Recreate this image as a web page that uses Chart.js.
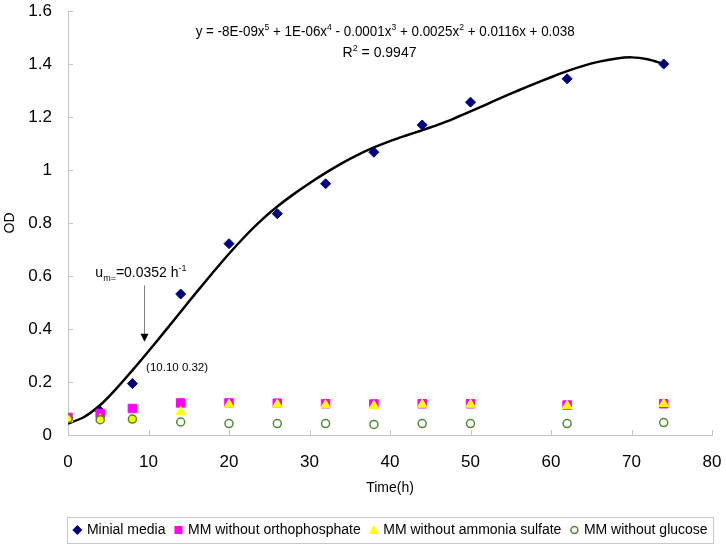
<!DOCTYPE html>
<html>
<head>
<meta charset="utf-8">
<script src="https://cdn.jsdelivr.net/npm/chart.js@4.4.1/dist/chart.umd.min.js"></script>
<style>
html, body { margin: 0; padding: 0; background: #fff; }
</style>
</head>
<body>
<canvas id="odChart" width="726" height="547"></canvas>
<script>
const sampleTimes = [0, 4, 8, 14, 20, 26, 32, 38, 44, 50, 62, 74];
const minialMedia = [0.065, 0.09, 0.194, 0.532, 0.722, 0.835, 0.948, 1.067, 1.170, 1.256, 1.344, 1.400];
const noPhosphate = [0.066, 0.081, 0.100, 0.121, 0.121, 0.120, 0.118, 0.117, 0.118, 0.118, 0.113, 0.118];
const noAmmonia = [0.060, 0.060, 0.060, 0.087, 0.115, 0.115, 0.113, 0.110, 0.115, 0.115, 0.110, 0.118];
const noGlucose = [0.062, 0.058, 0.060, 0.049, 0.043, 0.043, 0.043, 0.040, 0.043, 0.043, 0.043, 0.047];

const fitTimes = [0, 2, 4, 6, 8, 10, 12, 14, 16, 18, 20, 22, 24, 26, 28, 30, 32, 34, 36,
    38, 40, 42, 44, 46, 48, 50, 52, 54, 56, 58, 60, 62, 64, 66, 68, 70, 72, 74];
const fitValues = [0.043, 0.068, 0.113, 0.175, 0.244, 0.316, 0.390, 0.465, 0.540, 0.613,
    0.684, 0.750, 0.810, 0.862, 0.908, 0.950, 0.989, 1.025, 1.057, 1.085, 1.109, 1.130,
    1.150, 1.171, 1.195, 1.221, 1.248, 1.275, 1.301, 1.326, 1.350, 1.373, 1.393, 1.409,
    1.420, 1.425, 1.418, 1.400];

const xTicks = [0, 10, 20, 30, 40, 50, 60, 70, 80];
const yTicks = [0, 0.2, 0.4, 0.6, 0.8, 1, 1.2, 1.4, 1.6];
const seriesNames = ['Minial media', 'MM without orthophosphate', 'MM without ammonia sulfate', 'MM without glucose'];

const FONT = '"Liberation Sans", Arial, sans-serif';
Chart.defaults.font.family = FONT;
Chart.defaults.color = '#000';

function toPoints(xs, ys) {
    return xs.map((x, i) => ({ x: x, y: ys[i] }));
}

// text with sub/superscripts: parts = [text, size, dy], sx squeezes horizontally
function drawRich(ctx, parts, x, y, align, sx) {
    sx = sx || 1;
    let total = 0;
    parts.forEach(p => {
        ctx.font = p[1] + 'px ' + FONT;
        total += ctx.measureText(p[0]).width;
    });
    ctx.save();
    ctx.translate(align === 'center' ? x - total * sx / 2 : x, y);
    ctx.scale(sx, 1);
    let cx = 0;
    parts.forEach(p => {
        ctx.font = p[1] + 'px ' + FONT;
        ctx.fillText(p[0], cx, p[2] || 0);
        cx += ctx.measureText(p[0]).width;
    });
    ctx.restore();
}

function drawMarker(ctx, ds, x, y) {
    ctx.save();
    ctx.fillStyle = ds.backgroundColor;
    ctx.strokeStyle = ds.borderColor;
    ctx.lineWidth = ds.borderWidth || 1;
    ctx.beginPath();
    if (ds.pointStyle === 'rectRot') {
        ctx.moveTo(x, y - 5); ctx.lineTo(x + 5, y); ctx.lineTo(x, y + 5); ctx.lineTo(x - 5, y);
        ctx.closePath(); ctx.fill();
    } else if (ds.pointStyle === 'rect') {
        ctx.rect(x - 4, y - 4, 8, 8); ctx.fill();
    } else if (ds.pointStyle === 'triangle') {
        ctx.moveTo(x, y - 5); ctx.lineTo(x + 5, y + 4); ctx.lineTo(x - 5, y + 4);
        ctx.closePath(); ctx.fill();
    } else {
        ctx.arc(x, y, 3.5, 0, Math.PI * 2); ctx.stroke();
    }
    ctx.restore();
}

const insideTicks = {
    id: 'insideTicks',
    afterDraw(chart) {
        const { ctx, chartArea } = chart;
        const x = chart.scales.x, y = chart.scales.y;
        ctx.save();
        ctx.strokeStyle = '#c4c4c4';
        ctx.lineWidth = 1;
        ctx.beginPath();
        xTicks.forEach(v => {
            const px = Math.round(x.getPixelForValue(v)) + 0.5;
            ctx.moveTo(px, chartArea.bottom);
            ctx.lineTo(px, chartArea.bottom - 5);
        });
        yTicks.forEach(v => {
            const py = Math.round(y.getPixelForValue(v)) + 0.5;
            ctx.moveTo(chartArea.left, py);
            ctx.lineTo(chartArea.left + 5, py);
        });
        ctx.stroke();
        ctx.restore();
    }
};

const notes = {
    id: 'notes',
    afterDraw(chart) {
        const ctx = chart.ctx;
        const x = chart.scales.x, y = chart.scales.y;
        ctx.save();
        ctx.fillStyle = '#000';
        ctx.textBaseline = 'alphabetic';
        drawRich(ctx, [['y = -8E-09x', 14], ['5', 9, -6], [' + 1E-06x', 14], ['4', 9, -6],
            [' - 0.0001x', 14], ['3', 9, -6], [' + 0.0025x', 14], ['2', 9, -6],
            [' + 0.0116x + 0.038', 14]], x.getPixelForValue(39.4), y.getPixelForValue(1.505), 'center', 0.957);
        drawRich(ctx, [['R', 14], ['2', 9, -6], [' = 0.9947', 14]],
            x.getPixelForValue(38.7), y.getPixelForValue(1.425), 'center');
        drawRich(ctx, [['u', 14], ['m=', 9, 4], ['=0.0352 h', 14], ['-1', 9, -6]],
            x.getPixelForValue(3.4), y.getPixelForValue(0.595), 'left');
        drawRich(ctx, [['(10.10 0.32)', 11.5]], x.getPixelForValue(9.7), y.getPixelForValue(0.240), 'left');

        // arrow pointing at the max growth rate
        const ax = Math.round(x.getPixelForValue(9.45)) + 0.5;
        const top = y.getPixelForValue(0.565);
        const tip = y.getPixelForValue(0.352);
        ctx.strokeStyle = '#808080';
        ctx.lineWidth = 1;
        ctx.beginPath();
        ctx.moveTo(ax, top);
        ctx.lineTo(ax, tip - 7);
        ctx.stroke();
        ctx.fillStyle = '#000';
        ctx.beginPath();
        ctx.moveTo(ax - 4, tip - 8);
        ctx.lineTo(ax + 4, tip - 8);
        ctx.lineTo(ax, tip);
        ctx.closePath();
        ctx.fill();
        ctx.restore();
    }
};

const boxLegend = {
    id: 'boxLegend',
    afterDraw(chart) {
        const ctx = chart.ctx;
        const box = { left: 67, top: 517, right: 713, bottom: 543 };
        ctx.save();
        ctx.strokeStyle = '#c8c8c8';
        ctx.lineWidth = 1;
        ctx.strokeRect(box.left + 0.5, box.top + 0.5, box.right - box.left, box.bottom - box.top);
        ctx.font = '14px ' + FONT;
        ctx.fillStyle = '#000';
        ctx.textBaseline = 'middle';
        const items = chart.data.datasets.filter(d => d.label);
        const widths = items.map(d => 14.5 + ctx.measureText(d.label).width);
        const gap = 8;
        const total = widths.reduce((a, b) => a + b, 0) + gap * (items.length - 1);
        let cx = (box.left + box.right) / 2 - total / 2;
        const cy = (box.top + box.bottom) / 2;
        items.forEach((d, i) => {
            drawMarker(ctx, d, cx + 5, cy);
            ctx.fillText(d.label, cx + 14.5, cy);
            cx += widths[i] + gap;
        });
        ctx.restore();
    }
};

new Chart(document.getElementById('odChart').getContext('2d'), {
    type: 'scatter',
    data: {
        datasets: [
            {
                label: seriesNames[0],
                data: toPoints(sampleTimes, minialMedia),
                pointStyle: 'rectRot', pointRadius: 5,
                backgroundColor: '#000080', borderColor: '#000080', borderWidth: 1,
                order: 4
            },
            {
                label: seriesNames[1],
                data: toPoints(sampleTimes, noPhosphate),
                pointStyle: 'rect', pointRadius: 6,
                backgroundColor: '#ff00ff', borderColor: '#ff00ff', borderWidth: 1,
                order: 3
            },
            {
                label: seriesNames[2],
                data: toPoints(sampleTimes, noAmmonia),
                pointStyle: 'triangle', pointRadius: 5.5,
                backgroundColor: '#ffff00', borderColor: '#ffff00', borderWidth: 1,
                order: 2
            },
            {
                label: seriesNames[3],
                data: toPoints(sampleTimes, noGlucose),
                pointStyle: 'circle', pointRadius: 4,
                backgroundColor: 'rgba(0,0,0,0)', borderColor: '#4f8a2c', borderWidth: 1.5,
                order: 1
            },
            {
                type: 'line',
                label: '',
                data: toPoints(fitTimes, fitValues),
                borderColor: '#000', borderWidth: 2.5,
                pointRadius: 0, tension: 0.3, fill: false,
                order: 5
            }
        ]
    },
    options: {
        responsive: false,
        animation: false,
        layout: { padding: { top: 11, right: 14, bottom: 46, left: 0 } },
        plugins: {
            legend: { display: false },
            tooltip: { enabled: false }
        },
        scales: {
            x: {
                type: 'linear', min: 0, max: 80,
                afterBuildTicks: s => { s.ticks = xTicks.map(v => ({ value: v })); },
                afterFit: s => { s.height = 66; },
                grid: { display: false, drawTicks: true, tickLength: 17 },
                border: { display: true, color: '#c4c4c4', width: 1 },
                ticks: { font: { size: 17 }, padding: 0, maxRotation: 0 },
                title: { display: true, text: 'Time(h)', font: { size: 14 }, padding: { top: 0, bottom: 4 } }
            },
            y: {
                type: 'linear', min: 0, max: 1.6,
                afterBuildTicks: s => { s.ticks = yTicks.map(v => ({ value: v })); },
                afterFit: s => { s.width = 68; },
                grid: { display: false, drawTicks: true, tickLength: 16 },
                border: { display: true, color: '#c4c4c4', width: 1 },
                ticks: { font: { size: 17 }, padding: 0, callback: v => String(v) },
                title: { display: true, text: 'OD', font: { size: 14 }, padding: { top: 2, bottom: 0 } }
            }
        }
    },
    plugins: [insideTicks, notes, boxLegend]
});
</script>
</body>
</html>
